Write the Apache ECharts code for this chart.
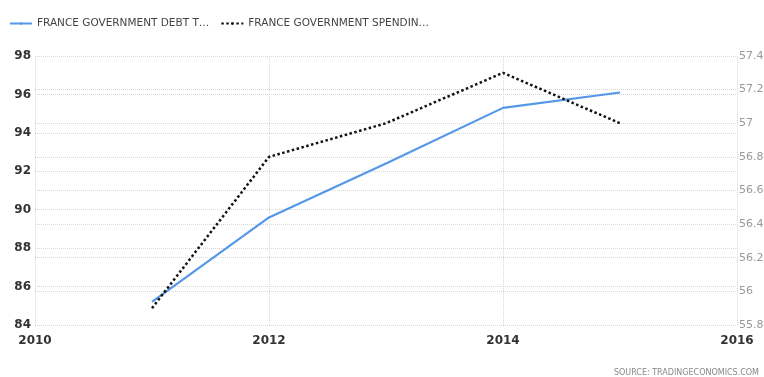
<!DOCTYPE html>
<html>
<head>
<meta charset="utf-8">
<script src="https://cdn.jsdelivr.net/npm/echarts@6/dist/echarts.min.js"></script>
<style>
  html, body { margin: 0; padding: 0; background: #fff; }
  #chart { width: 764px; height: 377px; }
</style>
</head>
<body>
<div id="chart"></div>
<script>
// Years and values for the two series
const years = [2011, 2012, 2013, 2014, 2015];
const debtToGdp = [85.2, 89.6, 92.4, 95.3, 96.1];
const spendingToGdp = [55.9, 56.8, 57.0, 57.3, 57.0];
const seriesNames = ['FRANCE GOVERNMENT DEBT T\u2026', 'FRANCE GOVERNMENT SPENDIN\u2026'];
const sourceText = 'SOURCE: TRADINGECONOMICS.COM';

const font = 'Tahoma, "DejaVu Sans", sans-serif';
const gridLine = { show: true, lineStyle: { color: '#d6d6d6', type: 'dotted', width: 1 } };

const chart = echarts.init(document.getElementById('chart'));
chart.setOption({
  animation: false,
  backgroundColor: '#fff',
  textStyle: { fontFamily: font },
  legend: {
    left: 4,
    top: 13,
    itemWidth: 22,
    itemHeight: 3,
    itemGap: 11,
    textStyle: { fontFamily: font, fontSize: 10.5, color: '#444' },
    data: seriesNames
  },
  grid: { left: 35, right: 27, top: 56, bottom: 52, containLabel: false, outerBoundsMode: 'none' },
  xAxis: {
    type: 'value',
    min: 2010,
    max: 2016,
    interval: 2,
    axisLine: { show: false },
    axisTick: { show: false },
    splitLine: gridLine,
    axisLabel: { color: '#333', fontSize: 12, fontWeight: 'bold', margin: 10, formatter: v => String(v) }
  },
  yAxis: [
    {
      type: 'value',
      min: 84,
      max: 98,
      interval: 2,
      position: 'left',
      axisLine: { show: false },
      axisTick: { show: false },
      splitLine: gridLine,
      axisLabel: { color: '#333', fontSize: 12, fontWeight: 'bold', margin: 4 }
    },
    {
      type: 'value',
      min: 55.8,
      max: 57.4,
      interval: 0.2,
      position: 'right',
      axisLine: { show: false },
      axisTick: { show: false },
      splitLine: gridLine,
      axisLabel: { color: '#999', fontSize: 11, margin: 2, formatter: v => String(+v.toFixed(1)) }
    }
  ],
  series: [
    {
      name: seriesNames[0],
      type: 'line',
      yAxisIndex: 0,
      showSymbol: false,
      symbol: 'none',
      lineStyle: { color: '#5597e8', width: 2.2 },
      itemStyle: { color: '#5597e8' },
      data: years.map((y, i) => [y, debtToGdp[i]])
    },
    {
      name: seriesNames[1],
      type: 'line',
      yAxisIndex: 1,
      showSymbol: false,
      symbol: 'none',
      lineStyle: { color: '#111', width: 2.5, type: [2.5, 2.5] },
      itemStyle: { color: '#111' },
      data: years.map((y, i) => [y, spendingToGdp[i]])
    }
  ],
  graphic: [
    {
      type: 'text',
      right: 5,
      bottom: 0,
      style: { text: sourceText, fill: '#888', font: '8px ' + font }
    }
  ]
});
</script>
</body>
</html>
